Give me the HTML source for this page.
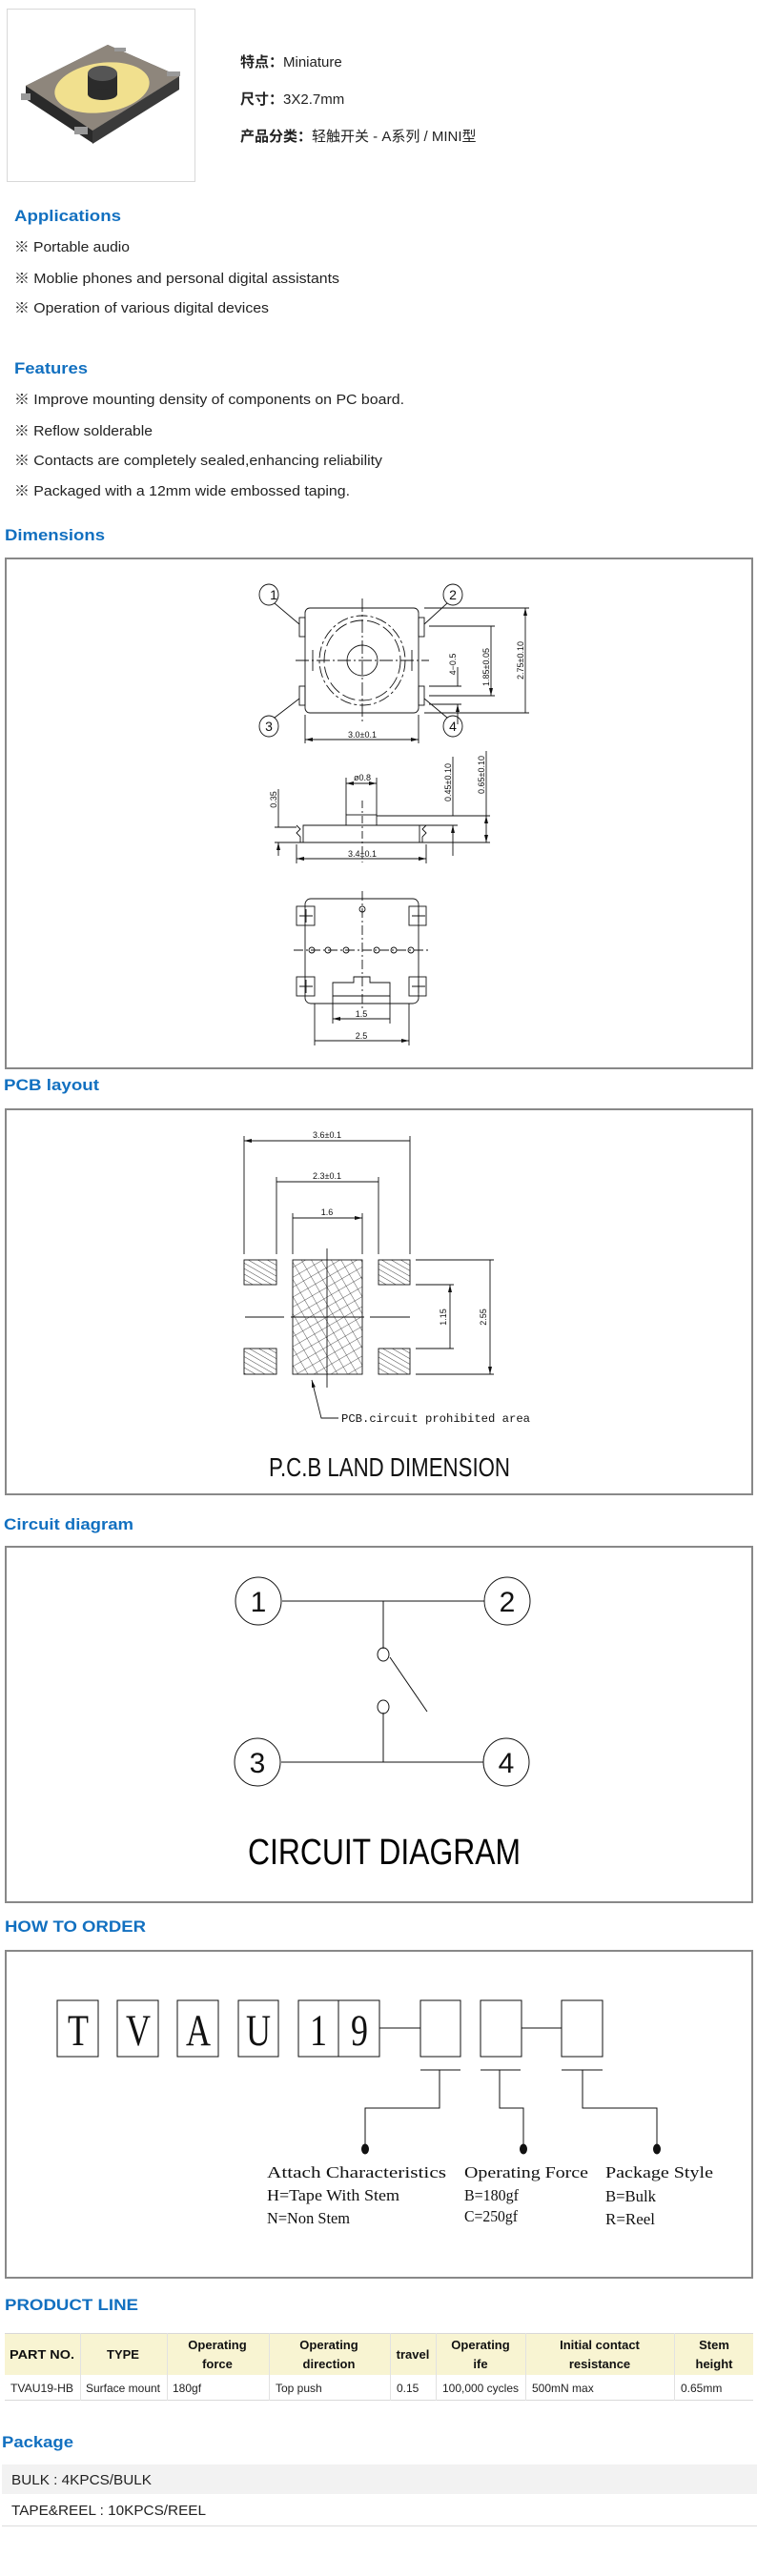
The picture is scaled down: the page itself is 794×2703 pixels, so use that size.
<!DOCTYPE html>
<html><head><meta charset="utf-8"><style>
html,body{margin:0;padding:0;background:#fff;}
svg{display:block;}
.h{font-family:"Liberation Sans",sans-serif;font-weight:bold;fill:#1270c0;font-size:17px;}
.t{font-family:"Liberation Sans","Noto Sans CJK SC",sans-serif;fill:#222;font-size:15px;}
.d{font-family:"Liberation Sans",sans-serif;fill:#111;font-size:9px;}
.m{font-family:"Liberation Mono",monospace;fill:#111;font-size:12px;}
.s{font-family:"Liberation Serif",serif;fill:#111;}
.th{font-family:"Liberation Sans",sans-serif;font-weight:bold;fill:#111;font-size:13px;}
.td{font-family:"Liberation Sans",sans-serif;fill:#222;font-size:12px;}
</style></head><body>
<svg width="794" height="2703" viewBox="0 0 794 2703" xmlns="http://www.w3.org/2000/svg">
<defs>
<pattern id="hat" width="5" height="5" patternUnits="userSpaceOnUse" patternTransform="rotate(-60)"><line x1="0" y1="0" x2="0" y2="5" stroke="#111" stroke-width="0.8"/></pattern>
<pattern id="xh" width="9" height="9" patternUnits="userSpaceOnUse" patternTransform="rotate(60)"><line x1="0" y1="0" x2="0" y2="9" stroke="#111" stroke-width="0.7"/><line x1="0" y1="0" x2="9" y2="0" stroke="#111" stroke-width="0.7"/></pattern>
<marker id="ar" markerWidth="8" markerHeight="6" refX="8" refY="3" orient="auto-start-reverse" markerUnits="userSpaceOnUse"><path d="M0,1 L8,3 L0,5z" fill="#111"/></marker>
</defs>

<!-- product photo -->
<rect x="7.5" y="9.5" width="197" height="181" fill="#fff" stroke="#d8d8d8"/>
<polygon points="27,90 113,47 188,80 97,137 97,150 27,104" fill="#2a2a2a"/>
<polygon points="97,137 188,80 188,94 97,151" fill="#3a3a3a"/>
<polygon points="27,90 113,47 188,80 97,137" fill="#8e867c"/>
<ellipse cx="107" cy="92" rx="50" ry="26" fill="#f1e08e" transform="rotate(-8 107 92)"/>
<rect x="92" y="77" width="31" height="22" fill="#2b2b2b"/>
<ellipse cx="107.5" cy="99" rx="15.5" ry="6" fill="#2b2b2b"/>
<ellipse cx="107.5" cy="77" rx="15.5" ry="8" fill="#555"/>
<rect x="22" y="98" width="10" height="7" fill="#999"/><rect x="78" y="133" width="14" height="8" fill="#999"/>
<rect x="120" y="50" width="12" height="4" fill="#999"/><rect x="175" y="75" width="14" height="5" fill="#999"/>

<text class="t" x="252" y="70"><tspan font-weight="bold">特点：</tspan>Miniature</text>
<text class="t" x="252" y="109"><tspan font-weight="bold">尺寸：</tspan>3X2.7mm</text>
<text class="t" x="252" y="148"><tspan font-weight="bold">产品分类：</tspan>轻触开关 - A系列 / MINI型</text>

<text class="h" x="15" y="232" textLength="112" lengthAdjust="spacingAndGlyphs">Applications</text>
<text class="t" x="15" y="264" textLength="121" lengthAdjust="spacingAndGlyphs">※ Portable audio</text>
<text class="t" x="15" y="297" textLength="341" lengthAdjust="spacingAndGlyphs">※ Moblie phones and personal digital assistants</text>
<text class="t" x="15" y="328" textLength="267" lengthAdjust="spacingAndGlyphs">※ Operation of various digital devices</text>

<text class="h" x="15" y="392" textLength="77" lengthAdjust="spacingAndGlyphs">Features</text>
<text class="t" x="15" y="424" textLength="409" lengthAdjust="spacingAndGlyphs">※ Improve mounting density of components on PC board.</text>
<text class="t" x="15" y="457" textLength="145" lengthAdjust="spacingAndGlyphs">※ Reflow solderable</text>
<text class="t" x="15" y="488" textLength="386" lengthAdjust="spacingAndGlyphs">※ Contacts are completely sealed,enhancing reliability</text>
<text class="t" x="15" y="520" textLength="352" lengthAdjust="spacingAndGlyphs">※ Packaged with a 12mm wide embossed taping.</text>

<text class="h" x="5" y="567" textLength="105" lengthAdjust="spacingAndGlyphs">Dimensions</text>
<rect x="6" y="586" width="783" height="535" fill="none" stroke="#888" stroke-width="2"/>

<g stroke="#111" fill="none" stroke-width="0.9">
<!-- top view -->
<rect x="320" y="638" width="119" height="110" rx="5"/>
<rect x="314" y="648" width="6" height="20"/><rect x="314" y="720" width="6" height="20"/>
<rect x="439" y="648" width="6" height="20"/><rect x="439" y="720" width="6" height="20"/>
<ellipse cx="380" cy="693" rx="45" ry="47" stroke-dasharray="12 3 3 3"/>
<ellipse cx="380" cy="693" rx="40" ry="42" stroke-dasharray="14 4"/>
<ellipse cx="380" cy="693" rx="16" ry="16"/>
<path d="M328 682 v22 M432 682 v22"/>
<path d="M380 628 V758 M310 693 H450" stroke-dasharray="14 3 2 3"/>
<ellipse cx="282" cy="624" rx="10" ry="11"/><ellipse cx="475" cy="624" rx="10" ry="11"/>
<ellipse cx="282" cy="762" rx="10" ry="11"/><ellipse cx="475" cy="762" rx="10" ry="11"/>
<path d="M288 633 L314 655 M469 633 L445 655 M288 753 L314 733 M469 753 L445 733"/>
<path d="M445 638 H555 M445 748 H555 M450 657 H519 M450 730 H519 M450 720 H484 M450 739 H484"/>
<path d="M551 638 V748 M515 657 V730" marker-start="url(#ar)" marker-end="url(#ar)"/>
<path d="M480 700 V720 M480 760 V739" marker-end="url(#ar)"/>
<path d="M320 750 V780 M439 750 V780"/>
<path d="M320 776 H439" marker-start="url(#ar)" marker-end="url(#ar)"/>
<!-- side view -->
<path d="M318 866 H440 V884 H318 Z M311 866 l4 4 l-4 4 l4 4 v6 M447 866 l-4 4 l4 4 l-4 4 v6 M311 884 H447"/>
<rect x="363" y="855" width="32" height="11"/>
<path d="M363 855 V816 M395 855 V816"/>
<path d="M363 822 H395" marker-start="url(#ar)" marker-end="url(#ar)"/>
<path d="M395 856 H514 M440 866 H480 M447 884 H514 M288 868 H311 M288 884 H311"/>
<path d="M475 794 V856 M475 898 V866" marker-end="url(#ar)"/>
<path d="M510 788 V856 M510 884" />
<path d="M510 856 V884" marker-start="url(#ar)" marker-end="url(#ar)"/>
<path d="M292 828 V868 M292 898 V884" marker-end="url(#ar)"/>
<path d="M311 886 V906 M447 886 V906"/>
<path d="M311 901 H447" marker-start="url(#ar)" marker-end="url(#ar)"/>
<path d="M380 840 V905" stroke-dasharray="8 3 2 3"/>
<!-- bottom view -->
<rect x="320" y="943" width="119" height="110" rx="6"/>
<rect x="311" y="951" width="19" height="20"/><rect x="311" y="1025" width="19" height="20"/>
<rect x="429" y="951" width="18" height="20"/><rect x="429" y="1025" width="18" height="20"/>
<path d="M314 961 h14 M321 954 v14 M432 961 h14 M439 954 v14 M314 1035 h14 M321 1028 v14 M432 1035 h14 M439 1028 v14"/>
<circle cx="327" cy="997" r="3"/><circle cx="344" cy="997" r="3"/><circle cx="363" cy="997" r="3"/>
<circle cx="395" cy="997" r="3"/><circle cx="413" cy="997" r="3"/><circle cx="431" cy="997" r="3"/>
<circle cx="380" cy="954" r="3"/>
<path d="M349 1045 V1031 H371 V1025 H388 V1031 H409 V1045 Z"/>
<path d="M380 935 V1060 M308 997 H452" stroke-dasharray="10 3 2 3"/>
<path d="M349 1045 V1074 M409 1045 V1074 M330 1053 V1097 M429 1053 V1097"/>
<path d="M349 1069 H409 M330 1092 H429" marker-start="url(#ar)" marker-end="url(#ar)"/>
</g>
<g class="d">
<text x="287" y="629" font-size="14" text-anchor="middle">1</text><text x="475" y="629" font-size="14" text-anchor="middle">2</text>
<text x="282" y="767" font-size="14" text-anchor="middle">3</text><text x="475" y="767" font-size="14" text-anchor="middle">4</text>
<text x="380" y="774" text-anchor="middle">3.0±0.1</text>
<text transform="translate(478 697) rotate(-90)" text-anchor="middle">4−0.5</text>
<text transform="translate(513 700) rotate(-90)" text-anchor="middle">1.85±0.05</text>
<text transform="translate(549 693) rotate(-90)" text-anchor="middle">2.75±0.10</text>
<text x="380" y="819" text-anchor="middle">ø0.8</text>
<text x="380" y="899" text-anchor="middle">3.4±0.1</text>
<text transform="translate(290 839) rotate(-90)" text-anchor="middle">0.35</text>
<text transform="translate(473 821) rotate(-90)" text-anchor="middle">0.45±0.10</text>
<text transform="translate(508 813) rotate(-90)" text-anchor="middle">0.65±0.10</text>
<text x="379" y="1067" text-anchor="middle">1.5</text>
<text x="379" y="1090" text-anchor="middle">2.5</text>
</g>

<text class="h" x="4" y="1144" textLength="100" lengthAdjust="spacingAndGlyphs">PCB layout</text>
<rect x="6" y="1164" width="783" height="404" fill="none" stroke="#888" stroke-width="2"/>
<g stroke="#111" fill="none" stroke-width="0.9">
<path d="M256 1192 V1316 M430 1192 V1316 M290 1235 V1316 M397 1235 V1316 M307 1273 V1316 M380 1273 V1316"/>
<path d="M256 1197 H430 M290 1240 H397 M307 1278 H380" marker-start="url(#ar)" marker-end="url(#ar)"/>
<rect x="256" y="1322" width="34" height="26" fill="url(#hat)"/><rect x="397" y="1322" width="33" height="26" fill="url(#hat)"/>
<rect x="256" y="1415" width="34" height="27" fill="url(#hat)"/><rect x="397" y="1415" width="33" height="27" fill="url(#hat)"/>
<rect x="307" y="1322" width="73" height="120" fill="url(#xh)"/>
<path d="M343 1310 V1456 M257 1382 H298 M305 1382 H382 M388 1382 H430"/>
<path d="M436 1322 H518 M436 1348 H476 M436 1415 H476 M436 1442 H518"/>
<path d="M472 1348 V1415 M514 1322 V1442" marker-start="url(#ar)" marker-end="url(#ar)"/>
<path d="M355 1488 H337 L327 1448" marker-end="url(#ar)"/>
</g>
<text class="d" x="343" y="1194" font-size="13" text-anchor="middle">3.6±0.1</text>
<text class="d" x="343" y="1237" font-size="13" text-anchor="middle">2.3±0.1</text>
<text class="d" x="343" y="1275" font-size="13" text-anchor="middle">1.6</text>
<text class="d" font-size="13" transform="translate(468 1382) rotate(-90)" text-anchor="middle">1.15</text>
<text class="d" font-size="13" transform="translate(510 1382) rotate(-90)" text-anchor="middle">2.55</text>
<text class="m" x="358" y="1492" textLength="198" lengthAdjust="spacingAndGlyphs">PCB.circuit prohibited area</text>
<text x="282" y="1549" font-family="Liberation Sans,sans-serif" font-size="28" fill="#111" textLength="253" lengthAdjust="spacingAndGlyphs">P.C.B LAND DIMENSION</text>

<text class="h" x="4" y="1605" textLength="136" lengthAdjust="spacingAndGlyphs">Circuit diagram</text>
<rect x="6" y="1623" width="783" height="373" fill="none" stroke="#888" stroke-width="2"/>
<g stroke="#111" fill="none" stroke-width="1">
<ellipse cx="271" cy="1680" rx="24" ry="25"/><ellipse cx="532" cy="1680" rx="24" ry="25"/>
<ellipse cx="270" cy="1849" rx="24" ry="25"/><ellipse cx="531" cy="1849" rx="24" ry="25"/>
<path d="M296 1680 H508 M402 1680 V1730 M402 1797 V1849 M295 1849 H507 M409 1739 L448 1796"/>
<ellipse cx="402" cy="1736" rx="6" ry="7"/><ellipse cx="402" cy="1791" rx="6" ry="7"/>
</g>
<g font-family="Liberation Sans,sans-serif" font-size="30" fill="#111" text-anchor="middle">
<text x="271" y="1691">1</text><text x="532" y="1691">2</text><text x="270" y="1860">3</text><text x="531" y="1860">4</text>
</g>
<text x="260" y="1956" font-family="Liberation Sans,sans-serif" font-size="38" fill="#000" textLength="286" lengthAdjust="spacingAndGlyphs">CIRCUIT DIAGRAM</text>

<text class="h" x="5" y="2027" textLength="148" lengthAdjust="spacingAndGlyphs">HOW TO ORDER</text>
<rect x="6" y="2047" width="783" height="343" fill="none" stroke="#888" stroke-width="2"/>
<g stroke="#111" fill="none" stroke-width="1">
<rect x="60" y="2099" width="43" height="59"/><rect x="123" y="2099" width="43" height="59"/>
<rect x="186" y="2099" width="43" height="59"/><rect x="250" y="2099" width="42" height="59"/>
<rect x="313" y="2099" width="42" height="59"/><rect x="355" y="2099" width="43" height="59"/>
<rect x="441" y="2099" width="42" height="59"/><rect x="504" y="2099" width="43" height="59"/>
<rect x="589" y="2099" width="43" height="59"/>
<path d="M398 2128 H441 M547 2128 H589"/>
<path d="M441 2172 H483 M504 2172 H546 M589 2172 H632"/>
<path d="M461 2172 V2212 H383 V2250 M524 2172 V2212 H549 V2250 M611 2172 V2212 H689 V2250"/>
</g>
<ellipse cx="383" cy="2255" rx="4" ry="5.5" fill="#111"/><ellipse cx="549" cy="2255" rx="4" ry="5.5" fill="#111"/><ellipse cx="689" cy="2255" rx="4" ry="5.5" fill="#111"/>
<g class="s" font-size="36" text-anchor="middle">
<text transform="translate(82 2146) scale(1 1.3)">T</text><text transform="translate(145 2146) scale(1 1.3)">V</text>
<text transform="translate(208 2146) scale(1 1.3)">A</text><text transform="translate(271 2146) scale(1 1.3)">U</text>
<text transform="translate(334 2146) scale(1 1.3)">1</text><text transform="translate(377 2146) scale(1 1.3)">9</text>
</g>
<g class="s" font-size="17">
<text x="280" y="2285" textLength="188" lengthAdjust="spacingAndGlyphs">Attach Characteristics</text>
<text x="280" y="2309" textLength="139" lengthAdjust="spacingAndGlyphs">H=Tape With Stem</text>
<text x="280" y="2333" textLength="87" lengthAdjust="spacingAndGlyphs">N=Non Stem</text>
<text x="487" y="2285" textLength="130" lengthAdjust="spacingAndGlyphs">Operating Force</text>
<text x="487" y="2309" textLength="57" lengthAdjust="spacingAndGlyphs">B=180gf</text>
<text x="487" y="2331" textLength="56" lengthAdjust="spacingAndGlyphs">C=250gf</text>
<text x="635" y="2285" textLength="113" lengthAdjust="spacingAndGlyphs">Package Style</text>
<text x="635" y="2310" textLength="53" lengthAdjust="spacingAndGlyphs">B=Bulk</text>
<text x="635" y="2334" textLength="52" lengthAdjust="spacingAndGlyphs">R=Reel</text>
</g>

<text class="h" x="5" y="2424" textLength="140" lengthAdjust="spacingAndGlyphs">PRODUCT LINE</text>
<rect x="5" y="2448" width="785" height="44" fill="#f8f4d2"/>
<path d="M5 2448.5 H790 M5 2518.5 H790" stroke="#d8d8d8"/>
<path d="M84.5 2448 V2519 M175.5 2448 V2519 M282.5 2448 V2519 M409.5 2448 V2519 M457.5 2448 V2519 M551.5 2448 V2519 M707.5 2448 V2519" stroke="#e2e2e2"/>
<g class="th" text-anchor="middle">
<text x="44" y="2475" textLength="68" lengthAdjust="spacingAndGlyphs">PART NO.</text>
<text x="129" y="2475">TYPE</text>
<text x="228" y="2465">Operating</text><text x="228" y="2485">force</text>
<text x="345" y="2465">Operating</text><text x="345" y="2485">direction</text>
<text x="433" y="2475">travel</text>
<text x="504" y="2465">Operating</text><text x="504" y="2485">ife</text>
<text x="629" y="2465">Initial contact</text><text x="629" y="2485">resistance</text>
<text x="749" y="2465">Stem</text><text x="749" y="2485">height</text>
</g>
<g class="td">
<text x="11" y="2510" textLength="66" lengthAdjust="spacingAndGlyphs">TVAU19-HB</text>
<text x="90" y="2510" textLength="78" lengthAdjust="spacingAndGlyphs">Surface mount</text>
<text x="181" y="2510">180gf</text>
<text x="289" y="2510">Top push</text>
<text x="416" y="2510">0.15</text>
<text x="464" y="2510" textLength="80" lengthAdjust="spacingAndGlyphs">100,000 cycles</text>
<text x="558" y="2510">500mN max</text>
<text x="714" y="2510">0.65mm</text>
</g>

<text class="h" x="2" y="2568" textLength="75" lengthAdjust="spacingAndGlyphs">Package</text>
<rect x="2" y="2586" width="792" height="31" fill="#f2f2f2"/>
<path d="M2 2650.5 H794" stroke="#ddd"/>
<text class="t" x="12" y="2607" textLength="147" lengthAdjust="spacingAndGlyphs">BULK : 4KPCS/BULK</text>
<text class="t" x="12" y="2639" textLength="204" lengthAdjust="spacingAndGlyphs">TAPE&amp;REEL : 10KPCS/REEL</text>
</svg>
</body></html>
